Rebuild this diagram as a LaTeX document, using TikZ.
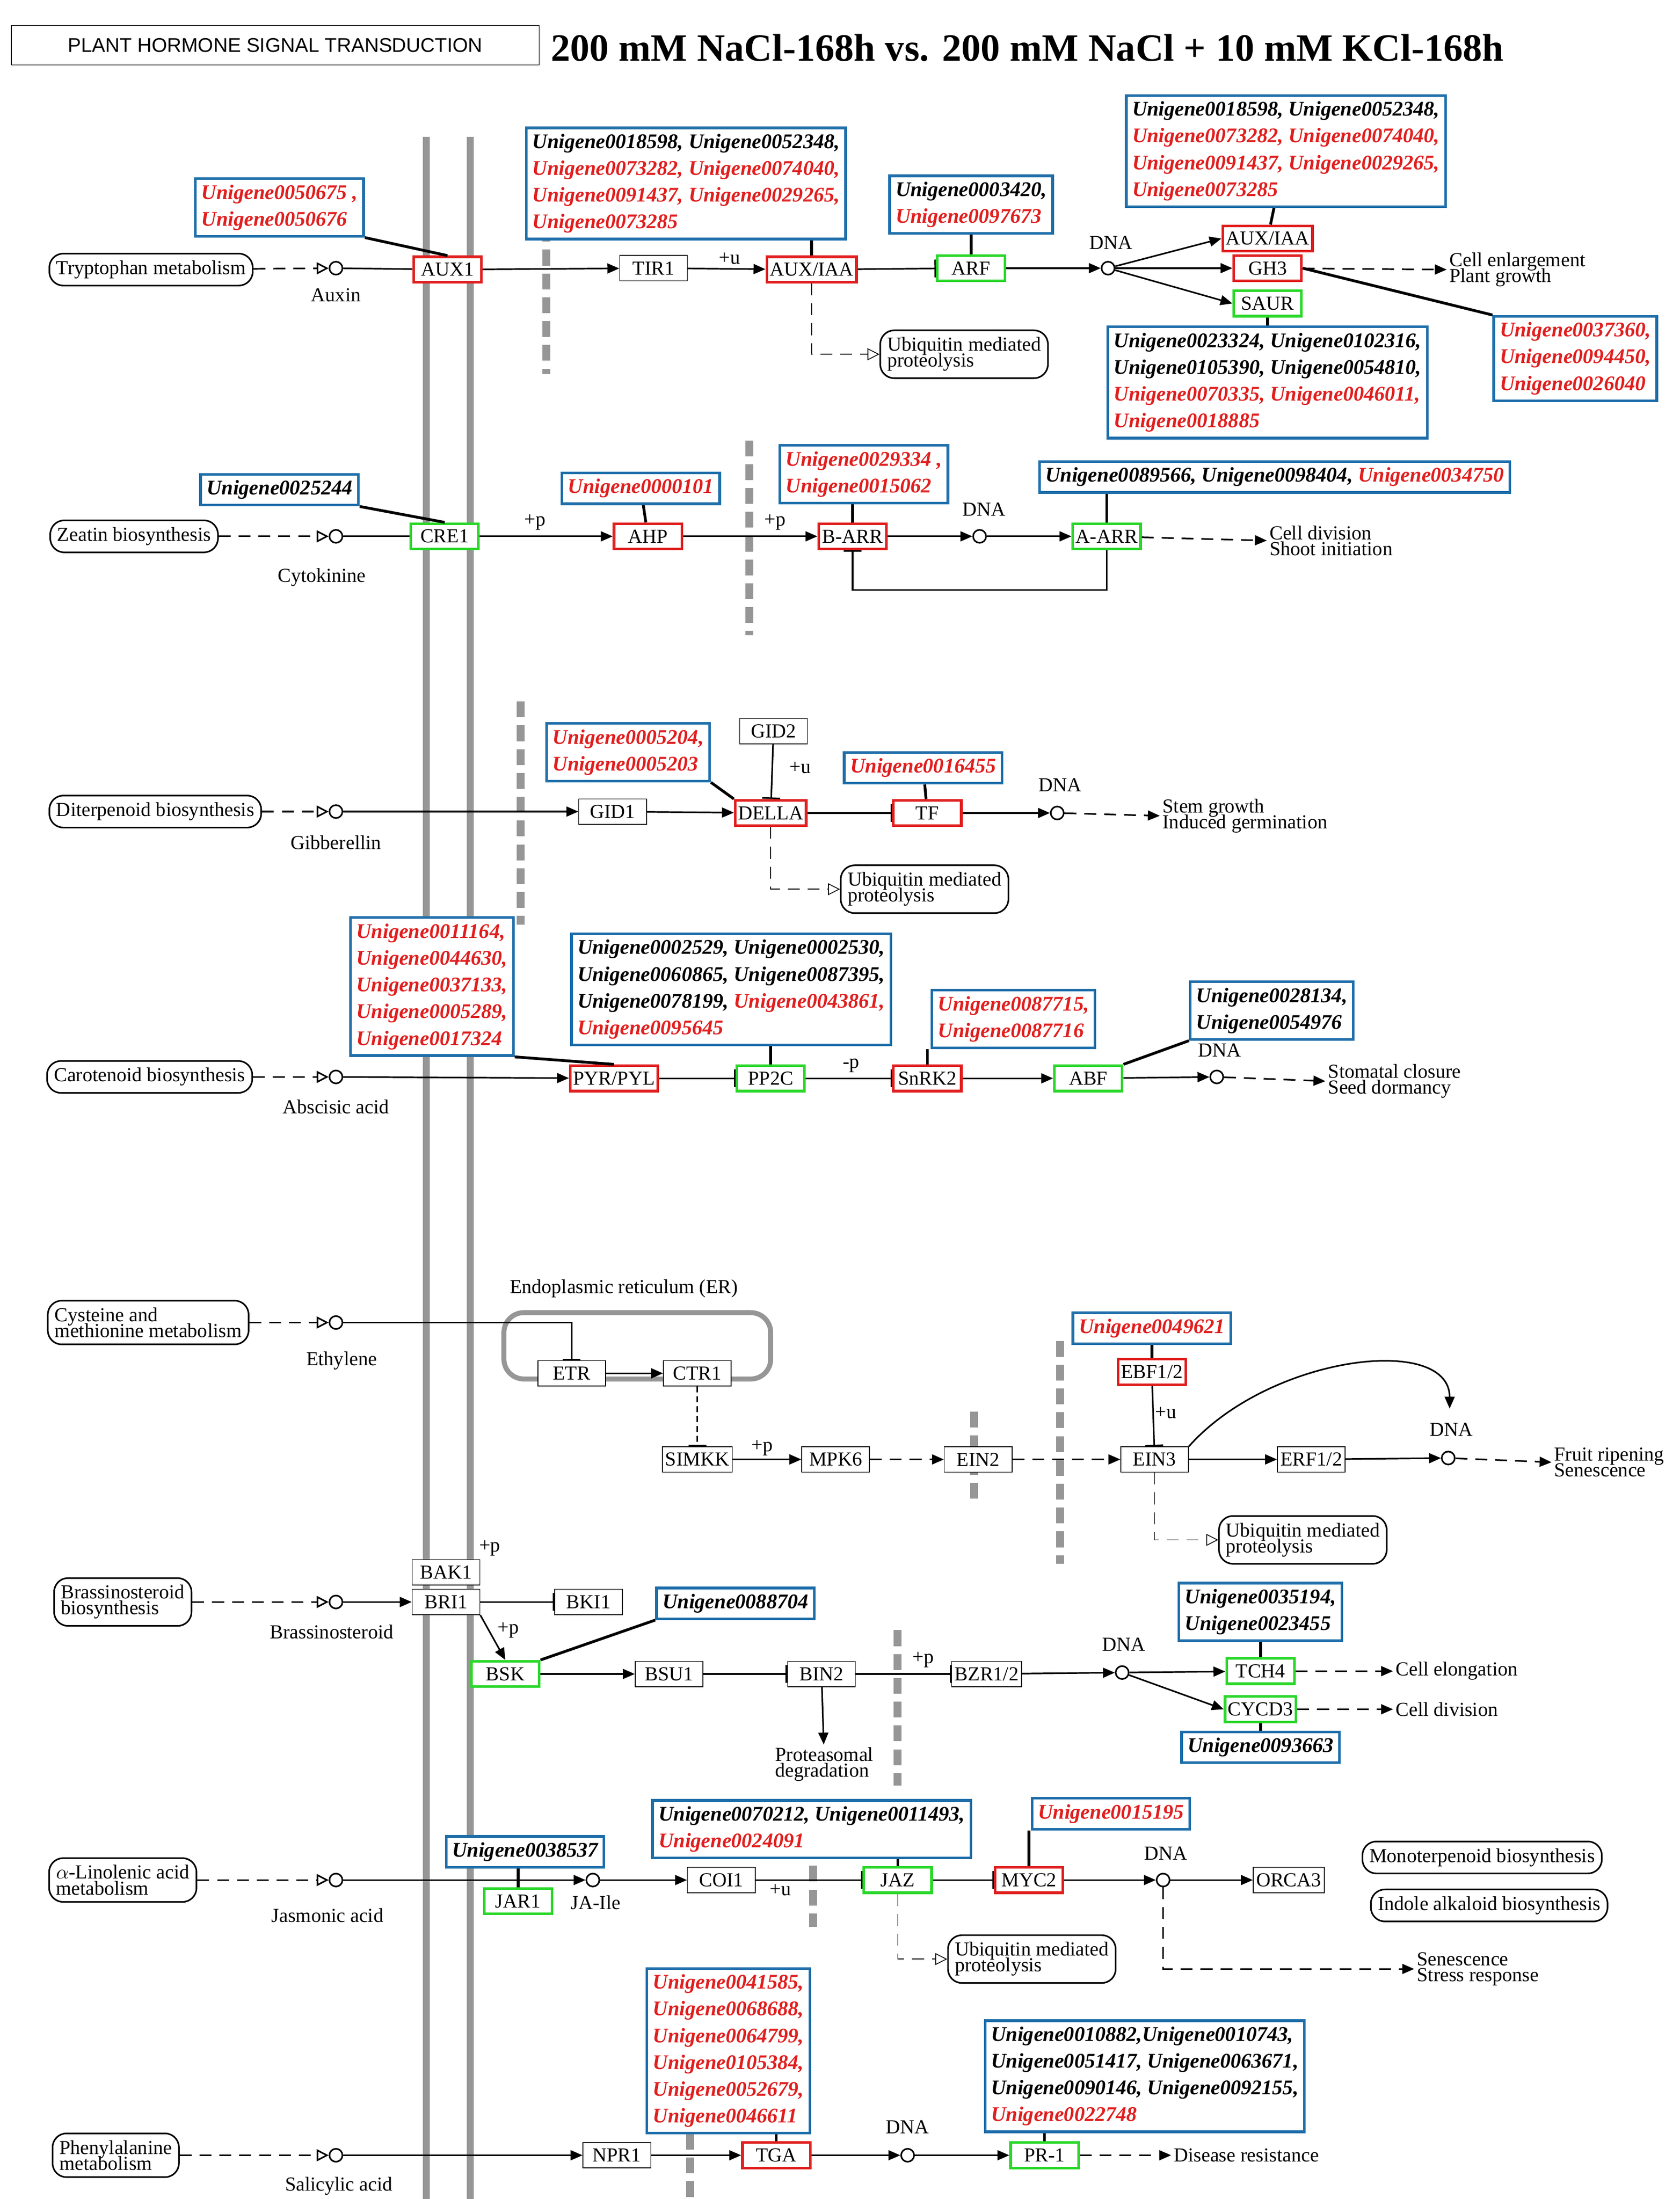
\documentclass[tikz,border=0pt]{standalone}
\usepackage{fontspec}
\setmainfont{Liberation Serif}
\newfontfamily\sansf{Liberation Sans}
\usetikzlibrary{arrows.meta}
\definecolor{ugblue}{RGB}{30,110,170}
\definecolor{gred}{RGB}{225,30,30}
\definecolor{ggreen}{RGB}{40,215,40}
\definecolor{ggray}{RGB}{150,150,150}
\newcommand{\rd}[1]{\textcolor{gred}{#1}}
\tikzset{
    font={\fontsize{10}{11}\selectfont},
    gene/.style={draw=black, thin, minimum height=0.45cm, minimum width=1.2cm, inner sep=1.5pt, fill=white},
    up/.style={gene, draw=gred, line width=1.3pt},
    dn/.style={gene, draw=ggreen, line width=1.3pt},
    cpd/.style={draw=black, rounded corners=7pt, align=left, inner sep=3.5pt, fill=white},
    ug/.style={draw=ugblue, line width=1.3pt, align=left, inner sep=3pt, fill=white,
           font={\bfseries\itshape\fontsize{10.5}{13.5}\selectfont}},
    cir/.style={circle, draw=black, thick, inner sep=0pt, minimum size=0.23cm, fill=white},
    lbl/.style={inner sep=1pt, align=left},
    dsh/.style={dash pattern=on 6pt off 4pt},
    act/.style={-{Triangle[length=6pt,width=5pt]}},
    dact/.style={dsh, -{Triangle[length=6pt,width=5pt]}},
    hol/.style={dsh, -{Triangle[open,length=6pt,width=6pt]}},
    inh/.style={-{Bar[width=9pt]}},
    link/.style={line width=1.4pt},
    mem/.style={ggray, line width=3.5pt},
    bar/.style={ggray, line width=4pt, dash pattern=on 8pt off 4pt},
}
\begin{document}
\begin{tikzpicture}[x=0.025cm,y=-0.025cm,thick]
\useasboundingbox (0,0) rectangle (1190,1558);

% title
\node[draw, thin, minimum width=374*0.025cm, minimum height=0.7cm, font={\sansf\fontsize{10}{12}\selectfont}] (TITLEBOX) at (195,32) {PLANT HORMONE SIGNAL TRANSDUCTION};
\node[anchor=west, font={\bfseries\fontsize{19.5}{22}\selectfont}] (TITLE) at (385,34) {200 mM NaCl-168h vs. 200 mM NaCl + 10 mM KCl-168h};

% membranes and barriers
\draw[mem] (302,97) -- (302,1558);
\draw[mem] (333,97) -- (333,1558);
\draw[bar] (387,160) -- (387,265);
\draw[bar] (531,312) -- (531,450);
\draw[bar] (369,497) -- (369,655);
\draw[bar] (690,1000) -- (690,1065);
\draw[bar] (751,950) -- (751,1108);
\draw[bar] (636,1155) -- (636,1265);
\draw[bar] (576,1305) -- (576,1365);
\draw[bar] (489,1478) -- (489,1558);

% auxin
\node[cpd] (TRP) at (107,191) {Tryptophan metabolism};
\node[cir] (AUXIN) at (238,190) {};
\node[lbl] at (238,209) {Auxin};
\node[up] (AUXONE) at (317,191) {AUX1};
\node[gene] (TIRONE) at (463,190) {TIR1};
\node[up] (AUXIAA) at (575,191) {AUX/IAA};
\node[dn] (ARF) at (688,190) {ARF};
\node[cir] (DNAA) at (785,190) {};
\node[lbl] at (787,172) {DNA};
\node[up] (AUXIAATWO) at (898,169) {AUX/IAA};
\node[up] (GHTHREE) at (898,190) {GH3};
\node[dn] (SAUR) at (898,215) {SAUR};
\node[lbl] (ENLARGE) at (1075,191) {Cell enlargement\\[-3pt]Plant growth};
\node[cpd] (UBQA) at (683,251) {Ubiquitin mediated\\[-3pt]proteolysis};
\node[lbl] at (517,183) {+u};
\draw[hol] (TRP) -- (AUXIN);
\draw (AUXIN) -- (AUXONE);
\draw[act] (AUXONE) -- (TIRONE);
\draw[act] (TIRONE) -- (AUXIAA);
\draw[inh] (AUXIAA) -- (ARF);
\draw[act] (ARF) -- (DNAA);
\draw[act] (DNAA) -- (AUXIAATWO.west);
\draw[act] (DNAA) -- (GHTHREE);
\draw[act] (DNAA) -- (SAUR.west);
\draw[dact] (GHTHREE) -- (ENLARGE.west);
\draw[hol, thin] (AUXIAA.south) |- (UBQA.west);
\node[ug] (UAUXONE) at (198,147) {\rd{Unigene0050675 ,}\\\rd{Unigene0050676}};
\node[ug] (UAUXIAA) at (486,130) {Unigene0018598, Unigene0052348,\\\rd{Unigene0073282, Unigene0074040,}\\\rd{Unigene0091437, Unigene0029265,}\\\rd{Unigene0073285}};
\node[ug] (UARF) at (688,145) {Unigene0003420,\\\rd{Unigene0097673}};
\node[ug] (UAUXIAATWO) at (911,107) {Unigene0018598, Unigene0052348,\\\rd{Unigene0073282, Unigene0074040,}\\\rd{Unigene0091437, Unigene0029265,}\\\rd{Unigene0073285}};
\node[ug] (UGH) at (1116,254) {\rd{Unigene0037360,}\\\rd{Unigene0094450,}\\\rd{Unigene0026040}};
\node[ug] (USAUR) at (898,271) {Unigene0023324, Unigene0102316,\\Unigene0105390, Unigene0054810,\\\rd{Unigene0070335, Unigene0046011,}\\\rd{Unigene0018885}};
\draw[link] (UAUXONE.south east) -- (AUXONE.north);
\draw[link] (UAUXIAA.south -| AUXIAA) -- (AUXIAA);
\draw[link] (UARF) -- (ARF);
\draw[link] (UAUXIAATWO) -- (AUXIAATWO);
\draw[link] (UGH.north west) -- (GHTHREE.east);
\draw[link] (USAUR) -- (SAUR);

% cytokinine
\node[cpd] (ZEA) at (95,380) {Zeatin biosynthesis};
\node[cir] (CYTO) at (238,380) {};
\node[lbl] at (228,409) {Cytokinine};
\node[dn] (CREONE) at (315,380) {CRE1};
\node[up] (AHP) at (459,380) {AHP};
\node[up] (BARR) at (604,380) {B-ARR};
\node[cir] (DNAB) at (694,380) {};
\node[lbl] at (697,361) {DNA};
\node[dn] (AARR) at (784,380) {A-ARR};
\node[lbl] (DIVISION) at (943,383) {Cell division\\[-3pt]Shoot initiation};
\node[lbl] at (379,370) {+p};
\node[lbl] at (549,370) {+p};
\draw[hol] (ZEA) -- (CYTO);
\draw (CYTO) -- (CREONE);
\draw[act] (CREONE) -- (AHP);
\draw[act] (AHP) -- (BARR);
\draw[act] (BARR) -- (DNAB);
\draw[act] (DNAB) -- (AARR);
\draw[dact] (AARR) -- (DIVISION.west);
\draw[inh] (AARR.south) -- ++(0,28) -| (BARR.south);
\node[ug] (UCRE) at (198,347) {Unigene0025244};
\node[ug] (UAHP) at (454,346) {\rd{Unigene0000101}};
\node[ug] (UBARR) at (612,336) {\rd{Unigene0029334 ,}\\\rd{Unigene0015062}};
\node[ug] (UAARR) at (903,338) {Unigene0089566, Unigene0098404, \rd{Unigene0034750}};
\draw[link] (UCRE.south east) -- (CREONE.north);
\draw[link] (UAHP) -- (AHP);
\draw[link] (UBARR.south -| BARR) -- (BARR);
\draw[link] (UAARR.south -| AARR) -- (AARR);

% gibberellin
\node[cpd] (DIT) at (110,575) {Diterpenoid biosynthesis};
\node[cir] (GIB) at (238,575) {};
\node[lbl] at (238,597) {Gibberellin};
\node[gene] (GIDONE) at (434,575) {GID1};
\node[up] (DELLA) at (546,576) {DELLA};
\node[gene] (GIDTWO) at (548,518) {GID2};
\node[up] (TF) at (657,576) {TF};
\node[cir] (DNAC) at (749,576) {};
\node[lbl] at (751,556) {DNA};
\node[lbl] (STEM) at (882,578) {Stem growth\\[-3pt]Induced germination};
\node[cpd] (UBQC) at (655,630) {Ubiquitin mediated\\[-3pt]proteolysis};
\node[lbl] at (567,544) {+u};
\draw[hol] (DIT) -- (GIB);
\draw[act] (GIB) -- (GIDONE);
\draw[act] (GIDONE) -- (DELLA);
\draw[inh] (GIDTWO) -- (DELLA);
\draw[inh] (DELLA) -- (TF);
\draw[act] (TF) -- (DNAC);
\draw[dact] (DNAC) -- (STEM.west);
\draw[hol, thin] (DELLA.south) |- (UBQC.west);
\node[ug] (UDELLA) at (445,533) {\rd{Unigene0005204,}\\\rd{Unigene0005203}};
\node[ug] (UTF) at (654,544) {\rd{Unigene0016455}};
\draw[link] (UDELLA.south east) -- (DELLA.north west);
\draw[link] (UTF) -- (TF);

% abscisic acid
\node[cpd] (CAR) at (106,763) {Carotenoid biosynthesis};
\node[cir] (ABA) at (238,763) {};
\node[lbl] at (238,784) {Abscisic acid};
\node[up] (PYR) at (435,764) {PYR/PYL};
\node[dn] (PPTWOC) at (546,764) {PP2C};
\node[up] (SNRK) at (657,764) {SnRK2};
\node[dn] (ABF) at (771,764) {ABF};
\node[cir] (DNAD) at (862,763) {};
\node[lbl] at (864,744) {DNA};
\node[lbl] (STOMA) at (988,766) {Stomatal closure\\[-3pt]Seed dormancy};
\node[lbl] at (603,755) {-p};
\draw[hol] (CAR) -- (ABA);
\draw[act] (ABA) -- (PYR);
\draw[inh] (PYR) -- (PPTWOC);
\draw[inh] (PPTWOC) -- (SNRK);
\draw[act] (SNRK) -- (ABF);
\draw[act] (ABF) -- (DNAD);
\draw[dact] (DNAD) -- (STOMA.west);
\node[ug] (UPYR) at (306,699) {\rd{Unigene0011164,}\\\rd{Unigene0044630,}\\\rd{Unigene0037133,}\\\rd{Unigene0005289,}\\\rd{Unigene0017324}};
\node[ug] (UPP) at (518,701) {Unigene0002529, Unigene0002530,\\Unigene0060865, Unigene0087395,\\Unigene0078199, \rd{Unigene0043861,}\\\rd{Unigene0095645}};
\node[ug] (USNRK) at (718,722) {\rd{Unigene0087715,}\\\rd{Unigene0087716}};
\node[ug] (UABF) at (901,716) {Unigene0028134,\\Unigene0054976};
\draw[link] (UPYR.south east) -- (PYR.north);
\draw[link] (UPP.south -| PPTWOC) -- (PPTWOC);
\draw[link] (USNRK.south -| SNRK) -- (SNRK);
\draw[link] (UABF.south west) -- (ABF.north east);

% ethylene
\node[cpd] (CYS) at (105,937) {Cysteine and\\[-3pt]methionine metabolism};
\node[cir] (ETHY) at (238,937) {};
\node[lbl] at (242,964) {Ethylene};
\node[lbl] at (442,913) {Endoplasmic reticulum (ER)};
\draw[ggray, line width=2.5pt, rounded corners=10pt] (357,930) rectangle (546,977);
\node[gene] (ETR) at (405,973) {ETR};
\node[gene] (CTRONE) at (494,973) {CTR1};
\node[gene] (SIMKK) at (494,1034) {SIMKK};
\node[gene] (MPK) at (592,1034) {MPK6};
\node[gene] (EINTWO) at (693,1034) {EIN2};
\node[gene] (EINTHREE) at (818,1034) {EIN3};
\node[up] (EBF) at (816,972) {EBF1/2};
\node[gene] (ERF) at (929,1034) {ERF1/2};
\node[cir] (DNAE) at (1026,1033) {};
\node[lbl] at (1028,1013) {DNA};
\node[lbl] (FRUIT) at (1140,1036) {Fruit ripening\\[-3pt]Senescence};
\node[cpd] (UBQE) at (923,1091) {Ubiquitin mediated\\[-3pt]proteolysis};
\coordinate (CURVEEND) at (1027,998);
\node[lbl] at (540,1026) {+p};
\node[lbl] at (826,1001) {+u};
\draw[hol] (CYS) -- (ETHY);
\draw[inh] (ETHY) -| (ETR.north);
\draw[act] (ETR) -- (CTRONE);
\draw[inh, densely dashed] (CTRONE) -- (SIMKK);
\draw[act] (SIMKK) -- (MPK);
\draw[dact] (MPK) -- (EINTWO);
\draw[dact] (EINTWO) -- (EINTHREE);
\draw[inh] (EBF) -- (EINTHREE);
\draw[act] (EINTHREE) -- (ERF);
\draw[act] (ERF) -- (DNAE);
\draw[dact] (DNAE) -- (FRUIT.west);
\draw[act] (EINTHREE.north east) .. controls (900,960) and (1027,945) .. (CURVEEND);
\draw[hol, thin] (EINTHREE.south) |- (UBQE.west);
\node[ug] (UEBF) at (816,941) {\rd{Unigene0049621}};
\draw[link] (UEBF) -- (EBF);

% brassinosteroid
\node[cpd] (BRS) at (87,1135) {Brassinosteroid\\[-3pt]biosynthesis};
\node[cir] (BRA) at (238,1135) {};
\node[lbl] at (235,1156) {Brassinosteroid};
\node[gene] (BAK) at (316,1114) {BAK1};
\node[gene] (BRI) at (316,1135) {BRI1};
\node[gene] (BKI) at (417,1135) {BKI1};
\node[dn] (BSK) at (358,1186) {BSK};
\node[gene] (BSU) at (474,1186) {BSU1};
\node[gene] (BIN) at (582,1186) {BIN2};
\node[gene] (BZR) at (699,1186) {BZR1/2};
\node[cir] (DNAF) at (795,1185) {};
\node[lbl] at (796,1165) {DNA};
\node[dn] (TCH) at (893,1184) {TCH4};
\node[dn] (CYCD) at (893,1211) {CYCD3};
\node[lbl] (ELONG) at (1032,1184) {Cell elongation};
\node[lbl] (CDIV) at (1025,1211) {Cell division};
\node[lbl] (PROT) at (584,1250) {Proteasomal\\[-3pt]degradation};
\node[lbl] at (347,1097) {+p};
\node[lbl] at (360,1155) {+p};
\node[lbl] at (654,1176) {+p};
\draw[hol] (BRS) -- (BRA);
\draw[act] (BRA) -- (BRI);
\draw[inh] (BRI) -- (BKI);
\draw[act] (BRI.south east) -- (BSK.north);
\draw[act] (BSK) -- (BSU);
\draw[inh] (BSU) -- (BIN);
\draw[inh] (BIN) -- (BZR);
\draw[act] (BZR) -- (DNAF);
\draw[act] (DNAF) -- (TCH);
\draw[act] (DNAF) -- (CYCD.west);
\draw[dact] (TCH) -- (ELONG);
\draw[dact] (CYCD) -- (CDIV);
\draw[act] (BIN) -- (PROT);
\node[ug] (UBSK) at (521,1136) {Unigene0088704};
\node[ug] (UTCH) at (893,1142) {Unigene0035194,\\Unigene0023455};
\node[ug] (UCYCD) at (893,1238) {Unigene0093663};
\draw[link] (UBSK.south west) -- (BSK.north east);
\draw[link] (UTCH) -- (TCH);
\draw[link] (UCYCD) -- (CYCD);

% jasmonic acid
\node[cpd] (LIN) at (87,1332) {$\alpha$-Linolenic acid\\[-3pt]metabolism};
\node[cir] (JA) at (238,1332) {};
\node[lbl] at (232,1357) {Jasmonic acid};
\node[dn] (JAR) at (367,1347) {JAR1};
\node[cir] (JAILE) at (420,1332) {};
\node[lbl] at (422,1348) {JA-Ile};
\node[gene] (COI) at (511,1332) {COI1};
\node[dn] (JAZ) at (636,1332) {JAZ};
\node[up] (MYC) at (729,1332) {MYC2};
\node[cir] (DNAG) at (824,1332) {};
\node[lbl] at (826,1313) {DNA};
\node[gene] (ORCA) at (913,1332) {ORCA3};
\node[cpd] (MONO) at (1050,1316) {Monoterpenoid biosynthesis};
\node[cpd] (INDOLE) at (1055,1350) {Indole alkaloid biosynthesis};
\node[lbl] (SENES) at (1047,1395) {Senescence\\[-3pt]Stress response};
\node[cpd] (UBQG) at (731,1388) {Ubiquitin mediated\\[-3pt]proteolysis};
\node[lbl] at (553,1339) {+u};
\draw[hol] (LIN) -- (JA);
\draw[act] (JA) -- (JAILE);
\draw[act] (JAILE) -- (COI);
\draw[inh] (COI) -- (JAZ);
\draw[inh] (JAZ) -- (MYC);
\draw[act] (MYC) -- (DNAG);
\draw[act] (DNAG) -- (ORCA);
\draw[hol, thin] (JAZ.south) |- (UBQG.west);
\draw[dact] (DNAG.south) |- (SENES.west);
\node[ug] (UJAR) at (372,1312) {Unigene0038537};
\node[ug] (UJAZ) at (575,1296) {Unigene0070212, Unigene0011493,\\\rd{Unigene0024091}};
\node[ug] (UMYC) at (787,1285) {\rd{Unigene0015195}};
\draw[link] (UJAR.south -| JAR) -- (JAR);
\draw[link] (UJAZ.south -| JAZ) -- (JAZ);
\draw[link] (UMYC.south -| MYC) -- (MYC);

% salicylic acid
\node[cpd] (PHE) at (82,1527) {Phenylalanine\\[-3pt]metabolism};
\node[cir] (SA) at (238,1527) {};
\node[lbl] at (240,1549) {Salicylic acid};
\node[gene] (NPR) at (437,1527) {NPR1};
\node[up] (TGA) at (550,1527) {TGA};
\node[cir] (DNAH) at (643,1527) {};
\node[lbl] at (643,1507) {DNA};
\node[dn] (PRONE) at (740,1527) {PR-1};
\node[lbl] (DISEASE) at (883,1527) {Disease resistance};
\draw[hol] (PHE) -- (SA);
\draw[act] (SA) -- (NPR);
\draw[act] (NPR) -- (TGA);
\draw[act] (TGA) -- (DNAH);
\draw[act] (DNAH) -- (PRONE);
\draw[dact] (PRONE) -- (DISEASE);
\node[ug] (UTGA) at (516,1453) {\rd{Unigene0041585,}\\\rd{Unigene0068688,}\\\rd{Unigene0064799,}\\\rd{Unigene0105384,}\\\rd{Unigene0052679,}\\\rd{Unigene0046611}};
\node[ug] (UPR) at (811,1471) {Unigene0010882,Unigene0010743,\\Unigene0051417, Unigene0063671,\\Unigene0090146, Unigene0092155,\\\rd{Unigene0022748}};
\draw[link] (UTGA.south -| TGA) -- (TGA);
\draw[link] (UPR.south -| PRONE) -- (PRONE);
\end{tikzpicture}
\end{document}
